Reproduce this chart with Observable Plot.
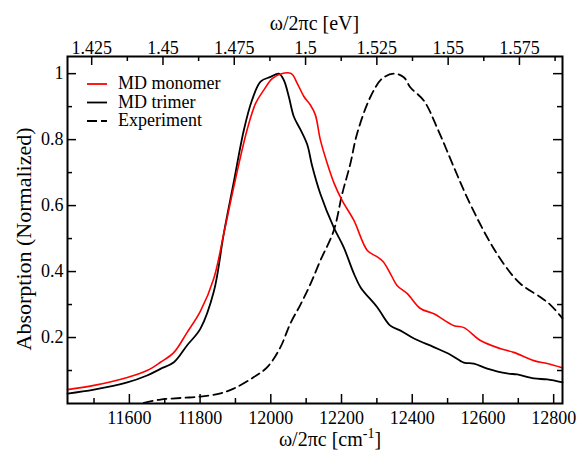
<!DOCTYPE html>
<html><head><meta charset="utf-8">
<script src="https://cdn.jsdelivr.net/npm/d3@7"></script>
<script src="https://cdn.jsdelivr.net/npm/@observablehq/plot@0.6"></script>
</head><body style="margin:0;padding:0;background:#fff;"><div id="chart"></div>
<script>
// ---- data (x in cm^-1, y normalized absorption) ----
const monomerX = [11425, 11500, 11594, 11650, 11688, 11726, 11763, 11801, 11839, 11867, 11898, 11933, 11957, 11980, 12004, 12030, 12058, 12075, 12094, 12112, 12126, 12140, 12159, 12180, 12202, 12235, 12273, 12300, 12318, 12340, 12357, 12386, 12423, 12461, 12518, 12546, 12593, 12650, 12687, 12744, 12782, 12825];
const monomerY = [0.042, 0.055, 0.079, 0.100, 0.125, 0.155, 0.215, 0.280, 0.380, 0.515, 0.67, 0.83, 0.91, 0.95, 0.985, 1.0, 1.0, 0.97, 0.93, 0.905, 0.875, 0.80, 0.73, 0.665, 0.615, 0.555, 0.464, 0.445, 0.43, 0.39, 0.358, 0.333, 0.288, 0.272, 0.236, 0.230, 0.191, 0.166, 0.155, 0.130, 0.121, 0.108];
const trimerX = [11425, 11500, 11594, 11650, 11688, 11726, 11763, 11801, 11839, 11867, 11895, 11924, 11947, 11971, 11999, 12023, 12037, 12051, 12065, 12084, 12103, 12117, 12140, 12178, 12206, 12235, 12254, 12301, 12338, 12367, 12405, 12461, 12508, 12546, 12574, 12612, 12668, 12697, 12744, 12782, 12825];
const trimerY = [0.030, 0.042, 0.064, 0.085, 0.105, 0.125, 0.176, 0.227, 0.340, 0.515, 0.67, 0.83, 0.92, 0.976, 0.99, 1.0, 0.98, 0.93, 0.87, 0.83, 0.785, 0.72, 0.636, 0.534, 0.474, 0.394, 0.352, 0.292, 0.236, 0.221, 0.197, 0.171, 0.148, 0.124, 0.121, 0.106, 0.091, 0.088, 0.076, 0.073, 0.064];
const experimentX = [11641, 11688, 11750, 11801, 11858, 11895, 11952, 11990, 12027, 12055, 12084, 12112, 12140, 12178, 12202, 12225, 12244, 12282, 12315, 12348, 12376, 12395, 12433, 12470, 12518, 12555, 12612, 12659, 12706, 12763, 12790, 12825];
const experimentY = [0.002, 0.012, 0.017, 0.021, 0.031, 0.045, 0.08, 0.11, 0.17, 0.242, 0.30, 0.362, 0.433, 0.524, 0.636, 0.727, 0.818, 0.93, 0.985, 1.0, 0.989, 0.958, 0.918, 0.837, 0.716, 0.625, 0.504, 0.423, 0.363, 0.322, 0.30, 0.258];

const seriesNames = ["MD monomer", "MD trimer", "Experiment"];
const xMajorTicks = [11600, 11800, 12000, 12200, 12400, 12600, 12800];
const xMinorTicks = [11500, 11700, 11900, 12100, 12300, 12500, 12700];
const eVMajorTicks = [1.425, 1.45, 1.475, 1.5, 1.525, 1.55, 1.575];
const eVMinorTicks = [1.4375, 1.4625, 1.4875, 1.5125, 1.5375, 1.5625, 1.5875];
const yMajorTicks = [0.2, 0.4, 0.6, 0.8, 1];
const yMinorTicks = [0.1, 0.3, 0.5, 0.7, 0.9];
const cmPerEV = 8065.544;

const toRows = (xs, ys, s) => xs.map((x, i) => ({x, y: ys[i], series: s}));
const monomer = toRows(monomerX, monomerY, seriesNames[0]);
const trimer = toRows(trimerX, trimerY, seriesNames[1]);
const experiment = toRows(experimentX, experimentY, seriesNames[2]);

const W = 580, H = 452, mL = 67, mR = 18, mT = 56, mB = 49;
const fw = W - mL - mR, fh = H - mT - mB;
const major = 9, minor = 5;
const tick = {stroke: "black", strokeWidth: 1.5};
const curve = "catmull-rom";
const FONT = "Liberation Serif";

const chart = Plot.plot({
  width: W, height: H,
  marginLeft: mL, marginRight: mR, marginTop: mT, marginBottom: mB,
  x: {domain: [11425, 12825]},
  y: {domain: [0, 1.052]},
  style: {fontFamily: FONT, fontSize: "18px"},
  marks: [
    Plot.line(experiment, {x: "x", y: "y", stroke: "black", strokeWidth: 1.8, strokeDasharray: "9,5", curve}),
    Plot.line(trimer, {x: "x", y: "y", stroke: "black", strokeWidth: 1.8, curve}),
    Plot.line(monomer, {x: "x", y: "y", stroke: "#ff0000", strokeWidth: 1.6, curve}),
    Plot.tickX(xMajorTicks, {x: d => d, insetTop: fh - major, ...tick}),
    Plot.tickX(xMinorTicks, {x: d => d, insetTop: fh - minor, ...tick}),
    Plot.tickX(eVMajorTicks.map(v => v * cmPerEV), {x: d => d, insetBottom: fh - major, ...tick}),
    Plot.tickX(eVMinorTicks.map(v => v * cmPerEV), {x: d => d, insetBottom: fh - minor, ...tick}),
    Plot.tickY(yMajorTicks, {y: d => d, insetRight: fw - major, ...tick}),
    Plot.tickY(yMinorTicks, {y: d => d, insetRight: fw - minor, ...tick}),
    Plot.tickY(yMajorTicks, {y: d => d, insetLeft: fw - major, ...tick}),
    Plot.tickY(yMinorTicks, {y: d => d, insetLeft: fw - minor, ...tick}),
    Plot.frame({stroke: "black", strokeWidth: 2}),
    Plot.axisX(xMajorTicks, {anchor: "bottom", tickSize: 0, tickPadding: 8, label: null, fontSize: 18, tickFormat: d => String(d)}),
    Plot.axisX(eVMajorTicks.map(v => v * cmPerEV), {anchor: "top", tickSize: 0, tickPadding: 3, label: null, fontSize: 18, tickFormat: d => String(+(d / cmPerEV).toFixed(4))}),
    Plot.axisY(yMajorTicks, {anchor: "left", tickSize: 0, tickPadding: 4, label: null, fontSize: 18, tickFormat: d => String(d)})
  ]
});

document.getElementById("chart").appendChild(chart);
const svg = d3.select(chart);
// axis titles; Greek letters in their own tspans
function title(sel, parts) {
  parts.forEach(p => {
    const t = sel.append("tspan").text(p.text);
    if (p.dy) t.attr("dy", p.dy);
    if (p.size) t.attr("font-size", p.size);
  });
}
const tt = svg.append("text").attr("x", mL + fw / 2).attr("y", 30).attr("text-anchor", "middle")
  .attr("font-family", FONT).attr("font-size", 20).attr("fill", "black");
title(tt, [{text: "ω"}, {text: "/2"}, {text: "π"}, {text: "c [eV]"}]);
const bt = svg.append("text").attr("x", 330).attr("y", 446).attr("text-anchor", "middle")
  .attr("font-family", FONT).attr("font-size", 20).attr("fill", "black");
title(bt, [{text: "ω"}, {text: "/2"}, {text: "π"}, {text: "c [cm"}, {text: "-1", dy: -8, size: 14}, {text: "]", dy: 8}]);
svg.append("text").attr("transform", "translate(31,239) rotate(-90)").attr("text-anchor", "middle")
  .attr("font-family", FONT).attr("font-size", 22).attr("fill", "black").text("Absorption (Normalized)");
// legend
const lg = svg.append("g").attr("text-anchor", "start");
const legendStyles = [{stroke: "#ff0000", dash: null}, {stroke: "black", dash: null}, {stroke: "black", dash: "10,4"}];
seriesNames.forEach((name, i) => {
  const y = 84 + i * 18.5;
  lg.append("line").attr("x1", 87).attr("x2", 107).attr("y1", y).attr("y2", y)
    .attr("stroke", legendStyles[i].stroke).attr("stroke-width", 1.8)
    .attr("stroke-dasharray", legendStyles[i].dash);
  lg.append("text").attr("x", 118).attr("y", y + 5).attr("text-anchor", "start")
    .attr("font-family", FONT).attr("font-size", 18).attr("fill", "black").text(name);
});
</script></body></html>
